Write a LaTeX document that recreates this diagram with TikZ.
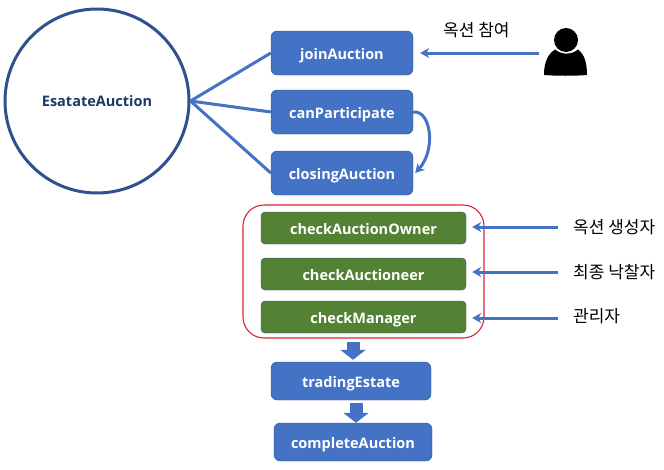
\documentclass[tikz,border=0pt]{standalone}
\usepackage{fontspec}
\setmainfont{Open Sans}
\newfontfamily\krfont{Noto Sans CJK KR}
\definecolor{blockblue}{HTML}{4472C4}
\definecolor{blockline}{HTML}{2F528F}
\definecolor{blockgreen}{HTML}{548235}
\definecolor{lettercolor}{HTML}{1F3864}
\definecolor{boxred}{HTML}{DC2436}
\usetikzlibrary{arrows.meta,positioning}
\tikzset{
	contract/.style={
		circle,
		line width=3pt,
		draw=blockline,
		fill=white,
		minimum size=184pt,
		inner sep=0pt,
		text=lettercolor,
		font=\fontsize{14.5}{17}\selectfont\bfseries
	},
	block/.style={
		rectangle,
		rounded corners=6pt,
		draw=blockline,
		fill=blockblue,
		text=white,
		minimum height=44pt,
		minimum width=142pt,
		inner sep=0pt,
		text height=15pt,
		text depth=3pt,
		font=\fontsize{14.5}{17}\selectfont\bfseries
	},
	modifier/.style={
		block,
		fill=blockgreen,
		rounded corners=4pt,
		minimum height=32pt,
		minimum width=205pt
	},
	finalblock/.style={
		block,
		minimum height=38pt
	},
	arrow/.style={
		draw=blockblue,
		line width=3pt,
		-{Stealth[length=9pt,width=10pt]}
	},
	link/.style={
		draw=blockblue,
		line width=3pt
	},
	downarrow/.style={
		draw=blockblue,
		line width=13pt,
		-{Triangle[length=10pt,width=25pt]}
	},
	role/.style={
		anchor=west,
		inner sep=0pt,
		font=\fontsize{17}{20}\selectfont\krfont
	},
}
\begin{document}
\begin{tikzpicture}[x=1pt,y=-1pt,on grid]
	\useasboundingbox (0,0) rectangle (664,469);
	\node[contract] (auction) at (97,101) {EsatateAuction};

	\node[block] (join) at (342,53) {joinAuction};
	\node[block] (can) [below=59pt of join] {canParticipate};
	\node[block] (closing) [below=61pt of can] {closingAuction};

	\path[link]
	(auction.east) edge (join.west)
	(auction.east) edge (can.west)
	(auction.east) edge (closing.west)
	;
	\draw[arrow] (can.east) .. controls ([xshift=18pt,yshift=2pt]can.east) and ([xshift=23pt,yshift=23pt]closing.east) .. ([xshift=2pt]closing.east);

	% checks
	\node[draw=boxred,line width=1.1pt,rounded corners=21pt,minimum width=241pt,minimum height=133pt,inner sep=0pt] (checks) at (363.5,271.5) {};
	\node[modifier] (owner) at (363.5,228) {checkAuctionOwner};
	\node[modifier] (auctioneer) [below=46pt of owner] {checkAuctioneer};
	\node[modifier] (manager) [below=43pt of auctioneer] {checkManager};

	\node[finalblock,minimum width=160pt] (trading) at (351,381) {tradingEstate};
	\node[finalblock,minimum width=158pt] (complete) at (353,442) {completeAuction};
	\draw[downarrow] ([xshift=-10.5pt,yshift=-3pt]checks.south) -- ([xshift=2pt,yshift=2pt]trading.north);
	\draw[downarrow] ([xshift=5pt,yshift=-3pt]trading.south) -- ([xshift=3pt,yshift=0pt]complete.north);

	% roles
	\node[role] (joinrole) at (443,30) {옥션 참여};
	\node[role] (ownerrole) at (573,227) {옥션 생성자};
	\node[role] (auctioneerrole) at (573,272) {최종 낙찰자};
	\node[role] (managerrole) at (573,316) {관리자};

	\coordinate (user) at (539,53);
	\coordinate (ownerin) at (558,227);
	\coordinate (auctioneerin) at (558,272);
	\coordinate (managerin) at (558,318);
	\fill (566,40) circle (12);
	\fill (544,75) .. controls (544,62) and (548,54) .. (555,49.5)
		.. controls (562,55) and (571,55) .. (578,49.5)
		.. controls (584,54) and (587,62) .. (587,75)
		.. controls (575,76) and (556,76) .. (544,75) -- cycle;

	\draw[arrow] (user) -- ([xshift=7pt]join.east);
	\draw[arrow] (ownerin) -- ([xshift=6pt]owner.east |- ownerin);
	\draw[arrow] (auctioneerin) -- ([xshift=6pt]auctioneer.east |- auctioneerin);
	\draw[arrow] (managerin) -- ([xshift=6pt]manager.east |- managerin);
\end{tikzpicture}
\end{document}
